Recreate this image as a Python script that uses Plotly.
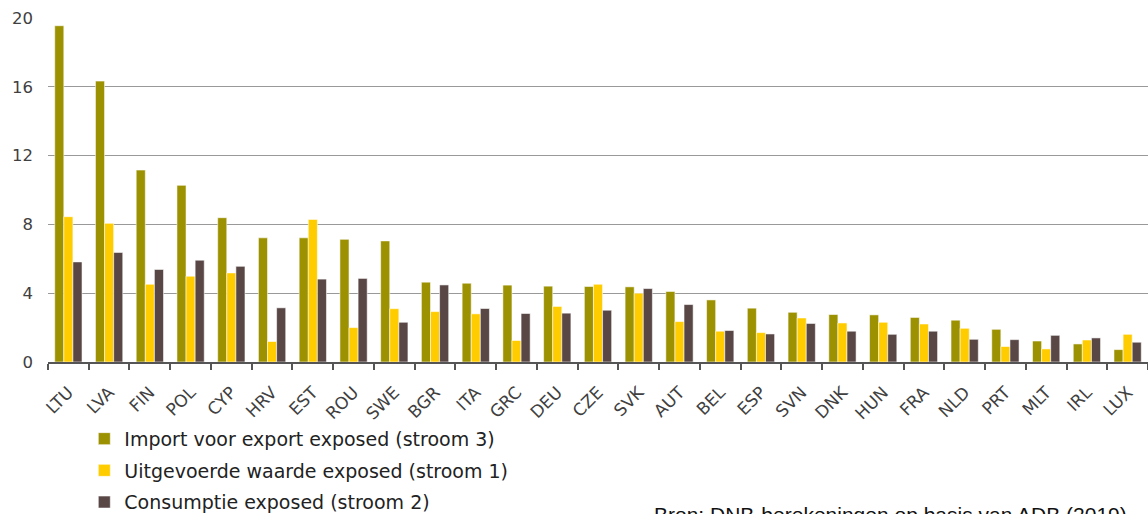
import plotly.graph_objects as go

categories = ["LTU", "LVA", "FIN", "POL", "CYP", "HRV", "EST", "ROU", "SWE", "BGR",
              "ITA", "GRC", "DEU", "CZE", "SVK", "AUT", "BEL", "ESP", "SVN", "DNK",
              "HUN", "FRA", "NLD", "PRT", "MLT", "IRL", "LUX"]

import_voor_export = [19.55, 16.33, 11.16, 10.27, 8.39, 7.22, 7.22, 7.13, 7.04, 4.64,
                      4.58, 4.47, 4.41, 4.39, 4.37, 4.10, 3.61, 3.13, 2.89, 2.76,
                      2.74, 2.59, 2.43, 1.90, 1.22, 1.05, 0.72]
uitgevoerde_waarde = [8.45, 8.06, 4.52, 4.99, 5.18, 1.19, 8.29, 2.00, 3.10, 2.93,
                      2.80, 1.25, 3.23, 4.52, 4.00, 2.35, 1.79, 1.71, 2.56, 2.27,
                      2.31, 2.21, 1.96, 0.90, 0.76, 1.28, 1.61]
consumptie = [5.82, 6.37, 5.38, 5.92, 5.56, 3.15, 4.82, 4.86, 2.31, 4.48,
              3.11, 2.82, 2.84, 3.01, 4.27, 3.34, 1.83, 1.63, 2.24, 1.79,
              1.61, 1.79, 1.32, 1.30, 1.55, 1.40, 1.15]

series_names = ["Import voor export exposed (stroom 3)",
                "Uitgevoerde waarde exposed (stroom 1)",
                "Consumptie exposed (stroom 2)"]
series_colors = ["#9C9100", "#FFCC00", "#594746"]
y_ticks = [0, 4, 8, 12, 16, 20]
source_text = "Bron: DNB-berekeningen op basis van ADB (2019)"

FONT = "DejaVu Sans, Verdana, sans-serif"

fig = go.Figure()
for i, (name, vals, col) in enumerate(zip(series_names,
                                         [import_voor_export, uitgevoerde_waarde, consumptie],
                                         series_colors)):
    fig.add_trace(go.Bar(
        x=categories, y=vals, name=name, legendgroup=f"g{i}",
        marker=dict(color=col, line=dict(color="rgba(255,255,255,0.55)", width=1)),
    ))

fig.update_layout(
    width=1148, height=514,
    margin=dict(l=48, r=0, t=18, b=152, autoexpand=False),
    paper_bgcolor="white", plot_bgcolor="white",
    barmode="group", bargap=0.33, bargroupgap=0,
    font=dict(family=FONT, color="#404040"),
    showlegend=True,
    legend=dict(
        x=0.033, y=-0.168, xanchor="left", yanchor="top",
        font=dict(family=FONT, size=19, color="#222222"),
        tracegroupgap=4, itemwidth=30,
        bgcolor="rgba(0,0,0,0)",
    ),
    xaxis=dict(
        type="category", automargin=False,
        showline=True, linecolor="#555555", linewidth=1.5,
        ticks="outside", tickson="boundaries", ticklen=6, tickcolor="#555555", tickwidth=1.5,
        tickangle=-45, tickfont=dict(family=FONT, size=17, color="#404040"),
        ticklabelstandoff=12,
        showgrid=False, zeroline=False,
    ),
    yaxis=dict(
        range=[0, 20], tickvals=y_ticks, ticktext=[str(v) for v in y_ticks],
        automargin=False,
        showgrid=True, gridcolor="#999999", gridwidth=1.4,
        zeroline=False, showline=False, ticks="",
        tickfont=dict(family=FONT, size=16.5, color="#404040"),
        ticklabelstandoff=14,
    ),
)

fig.add_annotation(
    text=source_text, xref="paper", yref="paper",
    x=(652 - 48) / 1100, y=-(501 - 362) / 344,
    xanchor="left", yanchor="top", showarrow=False,
    font=dict(family="Liberation Sans, Arial, sans-serif", size=21, color="#111111"),
)

fig.write_html("out.html")
